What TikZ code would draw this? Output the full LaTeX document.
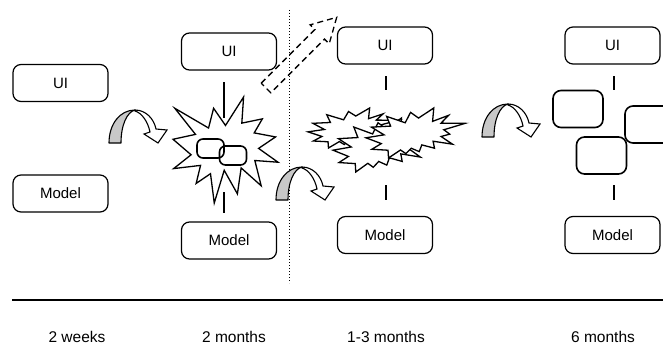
\documentclass[tikz,border=0pt]{standalone}
\usepackage{fontspec}
\setmainfont{Liberation Sans}
\newcommand\SealOne{(108,58) -- (145.22,0) -- (141.55,53.25) -- (183.80,44.57) -- (167.02,73.15) -- (210.97,81.37) -- (176.07,104.75) -- (216,132.90) -- (168.37,129.42) -- (181.45,180.95) -- (140.20,144.57) -- (132.47,197.37) -- (105.32,149.35) -- (84.85,216) -- (77.15,156.27) -- (47.62,176.17) -- (56.67,139.37) -- (1.35,145.87) -- (37.22,117.75) -- (0,86.15) -- (46.27,76.17) -- (3.70,22.95) -- (73.12,63.20) -- (83.52,22.95) -- cycle}
\newcommand\SealTwo{(114.62,43.42) -- (147.90,0) -- (145.25,57.77) -- (180.07,31.72) -- (163.80,65.32) -- (216,66.45) -- (169.85,94.02) -- (182.70,112.90) -- (163.80,123.10) -- (188.77,156.32) -- (146.40,143.50) -- (149.42,173.70) -- (121.80,159.35) -- (116.12,188.42) -- (98.72,173.70) -- (87.00,197.12) -- (75.27,181.25) -- (49.17,216) -- (48.05,182.40) -- (12.85,178.25) -- (33.30,153.70) -- (0,128.77) -- (39.35,115.92) -- (11.72,82.70) -- (53.72,78.17) -- (45.02,36.25) -- (85.50,63.82) -- (97.22,18.87) -- cycle}
\definecolor{leggray}{RGB}{200,200,200}
\tikzset{
  box/.style={draw, line width=1.2pt, rounded corners=8pt, minimum width=95pt, minimum height=37pt, inner sep=0pt, font=\fontsize{15}{18}\selectfont},
  minibox/.style={draw, line width=1.6pt, rounded corners=8pt, minimum width=50pt, minimum height=37pt, inner sep=0pt},
  tinybox/.style={draw, line width=1.6pt, rounded corners=6pt, minimum width=27pt, minimum height=19pt, inner sep=0pt},
  link/.style={line width=1.2pt},
  burst/.style={draw, fill=white, line width=1.3pt, line join=miter},
  label/.style={font=\fontsize{15.5}{18}\selectfont, inner sep=0pt},
  curvearrow/.pic={
    \filldraw[fill=leggray, line width=1.1pt, line join=round]
      (109,143) .. controls (109,124) and (120,110) .. (135,110)
      .. controls (127,112) and (121,125) .. (121,143) -- cycle;
    \filldraw[fill=white, line width=1.1pt, line join=miter]
      (135,110) .. controls (146,110) and (154,119) .. (156,129)
      -- (167,130) -- (158,143) -- (144,134) -- (150,132)
      .. controls (148,122) and (142,113) .. (135,111) -- cycle;
  }
}
\begin{document}
\begin{tikzpicture}[x=1pt, y=-1pt]
\useasboundingbox (0,0) rectangle (663,345);
\clip (0,0) rectangle (663,345);

% column 1
\node[box] (ui1) at (60.5,83) {UI};
\node[box] (model1) at (60.5,193.5) {Model};

% column 2
\node[box] (ui2) at (229,51.5) {UI};
\node[box] (model2) at (229,240.5) {Model};
\coordinate (l2a) at (224,82);
\coordinate (l2b) at (224,118);
\coordinate (l2c) at (224,192);
\coordinate (l2d) at (224,213);
\draw[link] (l2a) -- (l2b);
\draw[link] (l2c) -- (l2d);
\begin{scope}[shift={(173,97)}, x=0.4861pt, y=-0.4907pt]
  \path[burst] \SealOne;
\end{scope}
\node[tinybox] (t1) at (210.5,148.5) {};
\node[tinybox] (t2) at (233,155.5) {};

% dashed block arrow
\coordinate (da1) at (261.2,83.2);
\coordinate (da2) at (314.9,29.5);
\coordinate (da3) at (310.2,24.8);
\coordinate (da4) at (336.7,17.3);
\coordinate (da5) at (329.2,43.8);
\coordinate (da6) at (324.5,39.1);
\coordinate (da7) at (270.8,92.8);
\draw[line width=1.3pt, dash pattern=on 6pt off 4pt, line join=miter]
  (da1) -- (da2) -- (da3) -- (da4) -- (da5) -- (da6) -- (da7) -- cycle;

% dotted separator
\coordinate (dt1) at (289,10);
\coordinate (dt2) at (289,283);
\draw[line width=1pt, dotted] (dt1) -- (dt2);

% column 3
\node[box] (ui3) at (385,45.5) {UI};
\node[box] (model3) at (385,235) {Model};
\coordinate (l3a) at (386,76);
\coordinate (l3b) at (386,90);
\coordinate (l3c) at (386,185);
\coordinate (l3d) at (386,200);
\draw[link] (l3a) -- (l3b);
\draw[link] (l3c) -- (l3d);
\begin{scope}[shift={(308,108)}, x=0.4167pt, y=-0.1852pt]
  \path[burst] \SealTwo;
\end{scope}
\begin{scope}[shift={(333,118)}, x=0.4630pt, y=-0.2500pt]
  \path[burst] \SealTwo;
\end{scope}
\begin{scope}[shift={(366,108)}, x=0.4583pt, y=-0.2315pt]
  \path[burst] \SealTwo;
\end{scope}

% column 4
\node[box] (ui4) at (612.5,45.5) {UI};
\node[box] (model4) at (612.5,235) {Model};
\coordinate (l4a) at (614,76);
\coordinate (l4b) at (614,90);
\coordinate (l4c) at (614,185);
\coordinate (l4d) at (614,200);
\draw[link] (l4a) -- (l4b);
\draw[link] (l4c) -- (l4d);
\node[minibox] (m1) at (578,109) {};
\node[minibox] (m2) at (650,124.5) {};
\node[minibox] (m3) at (601.5,155.5) {};

% curved arrows
\pic at (0,0) {curvearrow};
\pic at (167,57) {curvearrow};
\pic at (373,-6) {curvearrow};

% timeline
\coordinate (tl1) at (12,300);
\coordinate (tl2) at (663,300);
\draw[line width=1.5pt] (tl1) -- (tl2);
\node[label] (w1) at (77,337) {2 weeks};
\node[label] (w2) at (234,337) {2 months};
\node[label] (w3) at (386,337) {1-3 months};
\node[label] (w4) at (603,337) {6 months};
\end{tikzpicture}
\end{document}
